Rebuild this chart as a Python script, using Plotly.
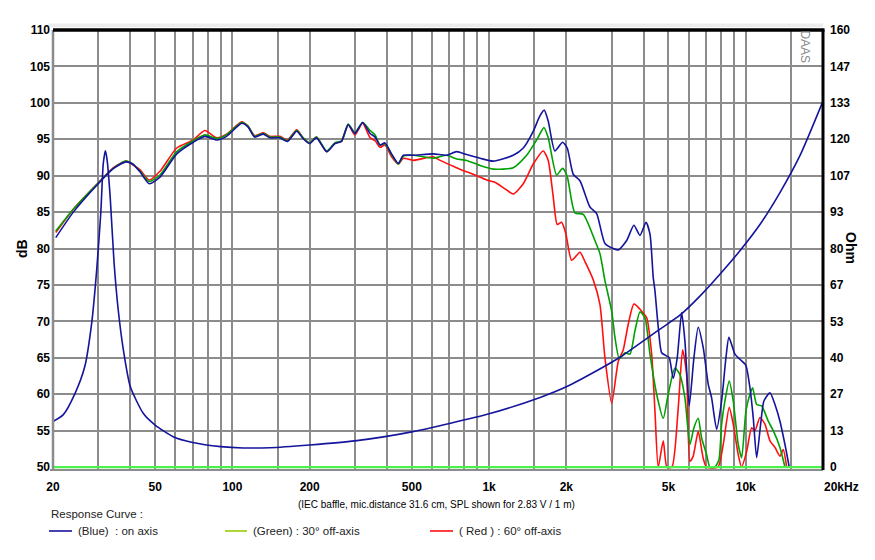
import math
import plotly.graph_objects as go

# ---------------- data ----------------
freq_blue = [20.5, 24.0, 30.0, 34.4, 38.5, 40.9, 43.7, 47.4, 52.2, 60.7, 70.4, 78.1, 86.9, 94.9, 108.7, 115, 122, 132, 140, 153,
             164, 178, 188.5, 200, 212.6, 233, 251, 266, 282.6, 300, 321.7, 344, 359.8, 376, 393, 417, 443, 463.5, 507, 606,
             683.5, 747.6, 817.5, 922, 1038, 1242, 1359, 1486, 1578, 1640, 1700, 1805, 1934, 2016, 2127, 2260, 2472, 2625, 2828, 3047,
             3187, 3436, 3668, 3871, 4085, 4235, 4362, 4429, 4562, 4703, 4889, 5034, 5218, 5408, 5626, 5795, 6022, 6282, 6529, 6829,
             7142, 7364, 7702, 8055, 8372, 8600, 9076, 9493, 10000, 10384, 10695, 11029, 11432, 11776, 12428, 12998, 13593, 14217, 14775]
spl_blue = [81.5, 85.0, 88.9, 91.0, 91.9, 91.6, 90.5, 88.9, 89.8, 93.0, 94.6, 95.4, 94.9, 95.4, 97.2, 96.7, 95.3, 95.7, 95.2, 95.2,
            94.7, 96.1, 95.1, 94.4, 95.2, 93.3, 94.4, 94.7, 97.0, 95.8, 97.3, 95.8, 95.3, 94.2, 94.5, 93.0, 91.7, 92.8, 92.8, 93.0,
            92.8, 93.3, 92.9, 92.4, 92.0, 92.8, 93.8, 96.1, 98.2, 99.0, 97.5, 93.4, 94.6, 93.8, 90.2, 89.3, 85.7, 84.8, 80.7, 80.0,
            79.8, 81.1, 83.2, 81.8, 83.6, 82.0, 76.0, 74.2, 69.2, 65.7, 65.3, 65.0, 62.2, 65.0, 71.2, 67.3, 58.4, 65.0, 69.2, 66.4,
            61.4, 59.5, 55.2, 59.1, 65.0, 67.8, 65.5, 64.8, 64.0, 60.9, 56.8, 51.3, 55.9, 59.1, 60.2, 58.6, 56.3, 53.1, 50.0]

freq_green = [20.5, 24.0, 30.0, 34.4, 38.5, 40.9, 43.7, 47.4, 52.2, 60.7, 70.4, 78.1, 86.9, 94.9, 108.7, 115, 122, 132, 140, 153,
              164, 178, 188.5, 200, 212.6, 233, 251, 266, 282.6, 300, 321.7, 344, 359.8, 376, 393, 417, 443, 463.5, 507, 606,
              683.5, 747.6, 817.5, 922, 1038, 1242, 1401, 1532, 1636, 1700, 1833, 1934, 2016, 2160, 2328, 2585, 2704, 2828, 3004, 3094,
              3216, 3384, 3539, 3701, 3871, 4049, 4235, 4497, 4771, 4989, 5299, 5541, 5795, 6060, 6282, 6529, 6732, 7041, 7252, 7585,
              7862, 8055, 8297, 8624, 8938, 9349, 9639, 10019, 10384, 10638, 11029, 11535, 12240, 12801, 13593, 14217]
spl_green = [82.4, 85.4, 89.0, 91.0, 92.0, 91.6, 90.6, 89.2, 90.1, 93.3, 94.8, 95.6, 95.1, 95.6, 97.3, 96.8, 95.4, 95.8, 95.3, 95.3,
             94.8, 96.2, 95.2, 94.5, 95.3, 93.4, 94.5, 94.8, 97.1, 95.9, 97.3, 96.2, 95.6, 94.2, 94.4, 92.9, 91.6, 92.7, 92.8, 92.4,
             92.8, 92.3, 92.1, 91.4, 90.9, 91.1, 92.8, 94.9, 96.6, 95.2, 90.1, 91.0, 89.9, 84.9, 84.7, 81.1, 79.3, 75.6, 71.4, 67.8,
             64.9, 65.7, 65.5, 68.7, 71.3, 70.5, 65.5, 60.0, 56.7, 60.0, 63.6, 62.7, 59.5, 53.1, 55.4, 56.7, 54.0, 51.7, 50.0, 50.0,
             51.0, 55.9, 59.1, 61.8, 59.1, 53.1, 51.3, 57.7, 60.0, 60.9, 58.6, 58.4, 56.3, 55.0, 52.7, 50.0]

freq_red = [20.5, 24.0, 30.0, 34.4, 38.5, 40.9, 43.7, 47.4, 52.2, 60.7, 70.4, 78.1, 86.9, 94.9, 108.7, 115, 122, 132, 140, 153,
            164, 178, 188.5, 200, 212.6, 233, 251, 266, 282.6, 300, 321.7, 344, 359.8, 376, 393, 417, 443, 463.5, 507, 606,
            644, 725, 793, 867, 979, 1054, 1153, 1242, 1359, 1486, 1625, 1700, 1778, 1843, 1917, 1992, 2097, 2260, 2364, 2546,
            2704, 2828, 3004, 3187, 3333, 3485, 3668, 3931, 4112, 4300, 4429, 4562, 4771, 4931, 5158, 5457, 5677, 5884, 6060, 6242,
            6529, 6829, 7041, 7792, 8171, 8624, 8938, 9349, 9639, 10090, 10544, 10861, 11360, 11881, 12428, 12998, 13593, 14001, 14435]
spl_red = [82.2, 85.4, 89.0, 91.1, 92.0, 91.5, 90.8, 89.4, 90.6, 93.8, 94.9, 96.2, 95.2, 95.7, 97.4, 96.8, 95.5, 95.9, 95.4, 95.4,
           94.9, 96.3, 95.2, 94.5, 95.3, 93.3, 94.5, 94.7, 97.0, 95.6, 97.2, 95.2, 94.8, 93.9, 94.2, 92.6, 91.6, 92.4, 92.1, 92.6,
           92.1, 91.3, 90.7, 90.2, 89.4, 89.1, 88.2, 87.5, 88.9, 91.6, 93.4, 92.1, 87.1, 83.3, 83.6, 82.0, 78.4, 79.5, 78.2, 75.7,
           72.3, 65.0, 58.8, 64.5, 66.1, 69.6, 72.4, 71.4, 70.5, 65.5, 57.7, 50.0, 53.6, 50.0, 50.0, 58.1, 66.1, 62.7, 50.8, 51.5,
           54.9, 51.2, 50.0, 50.0, 53.1, 58.2, 55.9, 51.7, 50.0, 52.2, 55.4, 55.0, 56.8, 55.9, 53.6, 52.7, 51.5, 52.4, 50.0]

freq_imp = [20, 21.9, 24.4, 26.6, 28.3, 29.6, 30.7, 31.4, 32.0, 32.5, 33.4, 34.6, 35.9, 37.6, 40, 45, 50, 58.8, 70, 90,
            110, 140, 200, 300, 500, 1000, 1600, 2000, 2700, 3236, 4632, 5541, 6630, 7933, 9493, 11360, 13593, 16260, 20000]
imp_ohm = [16.7, 19.1, 27.1, 36.8, 52.7, 72.2, 92.9, 111.2, 115.8, 112.4, 99.0, 74.6, 57.6, 42.9, 29.5, 19.6, 15.4, 11.1, 9.0, 7.5,
           7.0, 7.1, 8.1, 9.6, 12.9, 19.5, 25.7, 29.4, 35.9, 40.2, 50.5, 55.6, 62.6, 70.6, 79.2, 88.8, 100.5, 114.0, 134.0]

x_grid = [20, 30, 40, 50, 60, 70, 80, 90, 100, 150, 200, 300, 400, 500, 600, 700, 800, 900, 1000, 1500,
          2000, 3000, 4000, 5000, 6000, 7000, 8000, 9000, 10000, 15000, 20000]
x_label_map = {20: "20", 50: "50", 100: "100", 200: "200", 500: "500", 1000: "1k", 2000: "2k", 5000: "5k", 10000: "10k"}
db_ticks = [50, 55, 60, 65, 70, 75, 80, 85, 90, 95, 100, 105, 110]
ohm_ticks = ["0", "13", "27", "40", "53", "67", "80", "93", "107", "120", "133", "147", "160"]

# ---------------- style ----------------
BLUE = "#14149c"
GREEN = "#00a000"
RED = "#ff1010"
GRID = "#8c8c8c"
TICKFONT = "Liberation Sans Narrow, Arial Narrow, Liberation Sans, Arial, sans-serif"
SANS = "Liberation Sans, Arial, sans-serif"

DB_MIN, DB_MAX = 49.6, 110.0
OHM_MAX = 160.0
ohm_min = (DB_MIN - 50.0) * OHM_MAX / 60.0


def bold(s):
    return "<b>" + s + "</b>" if s else ""


fig = go.Figure()
line_common = dict(width=1.6, shape="spline", smoothing=0.6)
fig.add_trace(go.Scatter(x=freq_imp, y=imp_ohm, yaxis="y2", mode="lines",
                         line=dict(color=BLUE, **line_common), hoverinfo="skip"))
fig.add_trace(go.Scatter(x=freq_red, y=spl_red, mode="lines", line=dict(color=RED, **line_common)))
fig.add_trace(go.Scatter(x=freq_green, y=spl_green, mode="lines", line=dict(color=GREEN, **line_common)))
fig.add_trace(go.Scatter(x=freq_blue, y=spl_blue, mode="lines", line=dict(color=BLUE, **line_common)))

tickfont = dict(family=TICKFONT, size=12, color="black")
fig.update_layout(
    width=875, height=560,
    margin=dict(l=53, r=52, t=30, b=90, autoexpand=False),
    paper_bgcolor="white", plot_bgcolor="white",
    showlegend=False,
    xaxis=dict(type="log", range=[math.log10(20), math.log10(20000)],
               tickvals=x_grid, ticktext=[bold(x_label_map.get(f, "")) for f in x_grid],
               showgrid=True, gridcolor=GRID, gridwidth=2, zeroline=False, showline=False,
               ticks="", ticklabelstandoff=8, automargin=False, tickfont=tickfont),
    yaxis=dict(range=[DB_MIN, DB_MAX], tickvals=db_ticks, ticktext=[bold(str(v)) for v in db_ticks],
               showgrid=True, gridcolor=GRID, gridwidth=2, zeroline=False, showline=False,
               ticks="", ticklabelstandoff=2, automargin=False, tickfont=tickfont),
    yaxis2=dict(range=[ohm_min, OHM_MAX], overlaying="y", side="right",
                tickvals=[i * OHM_MAX / 12 for i in range(13)], ticktext=[bold(t) for t in ohm_ticks],
                showgrid=False, zeroline=False, showline=False, ticks="", ticklabelstandoff=6,
                automargin=False, tickfont=tickfont),
)

shapes = []
# lime reference line at 50 dB
shapes.append(dict(type="line", xref="paper", yref="y", x0=0, x1=1, y0=50, y1=50,
                   line=dict(color="#4cf04c", width=2.2), layer="above"))
# frame
shapes.append(dict(type="line", xref="paper", yref="paper", x0=0, x1=0, y0=0, y1=1,
                   line=dict(color=GRID, width=2.5), layer="above"))
shapes.append(dict(type="line", xref="paper", yref="paper", x0=-0.004, x1=1, y0=0, y1=0,
                   line=dict(color=GRID, width=2), layer="above"))
shapes.append(dict(type="line", xref="paper", yref="paper", x0=0, x1=1.002, y0=1, y1=1,
                   line=dict(color="black", width=3.5), layer="above"))
shapes.append(dict(type="line", xref="paper", yref="paper", x0=1, x1=1, y0=0, y1=1,
                   line=dict(color="black", width=3), layer="above"))
# light strip above the frame
shapes.append(dict(type="rect", xref="paper", yref="paper", x0=-0.006, x1=1.0, y0=1.006, y1=1.0145,
                   fillcolor="#ececec", line=dict(width=0), layer="below"))
# legend samples
leg_y = -0.1386
for x0, x1, c in [(-0.0052, 0.0247, BLUE), (0.2234, 0.2519, "#99cc00"), (0.4896, 0.5195, RED)]:
    shapes.append(dict(type="line", xref="paper", yref="paper", x0=x0, x1=x1, y0=leg_y, y1=leg_y,
                       line=dict(color=c, width=1.6)))
fig.update_layout(shapes=shapes)

ann = []
ann.append(dict(text="<b>dB</b>", xref="paper", yref="paper", x=-0.0403, y=0.5045, showarrow=False,
                xanchor="center", yanchor="middle",
                textangle=-90, font=dict(family=SANS, size=14, color="black")))
ann.append(dict(text="<b>Ohm</b>", xref="paper", yref="paper", x=1.0364, y=0.5045, showarrow=False,
                xanchor="center", yanchor="middle",
                textangle=90, font=dict(family=SANS, size=14, color="black")))
ann.append(dict(text="<b>20kHz</b>", xref="paper", yref="paper", x=0.9987, y=-0.0386, showarrow=False,
                xanchor="left", yanchor="middle", font=tickfont))
ann.append(dict(text="(IEC baffle, mic.distance 31.6 cm, SPL shown for 2.83 V / 1 m)", xref="paper", yref="paper",
                x=0.498, y=-0.0773, showarrow=False, xanchor="center", yanchor="middle",
                font=dict(family=SANS, size=10, color="black")))
ann.append(dict(text="Response Curve :", xref="paper", yref="paper", x=-0.0052, y=-0.100, showarrow=False,
                xanchor="left", yanchor="middle", font=dict(family=SANS, size=11.5, color="#222222")))
for x, t in [(0.0299, "(Blue)&nbsp; : on axis"), (0.2568, "(Green) : 30° off-axis"), (0.5243, "( Red ) : 60° off-axis")]:
    ann.append(dict(text=t, xref="paper", yref="paper", x=x, y=leg_y, showarrow=False,
                    xanchor="left", yanchor="middle", font=dict(family=SANS, size=11.5, color="#222222")))
ann.append(dict(text="DAAS", xref="paper", yref="paper", x=0.977, y=0.962, showarrow=False,
                xanchor="center", yanchor="middle",
                textangle=90, font=dict(family=SANS, size=12, color="#8a8a8a")))
fig.update_layout(annotations=ann)

# remove the default page margin so the figure sits at the window's top-left corner
fig.write_html("out.html", config={"displayModeBar": False},
               post_script="document.body.style.margin='0px';document.body.style.padding='0px';")
